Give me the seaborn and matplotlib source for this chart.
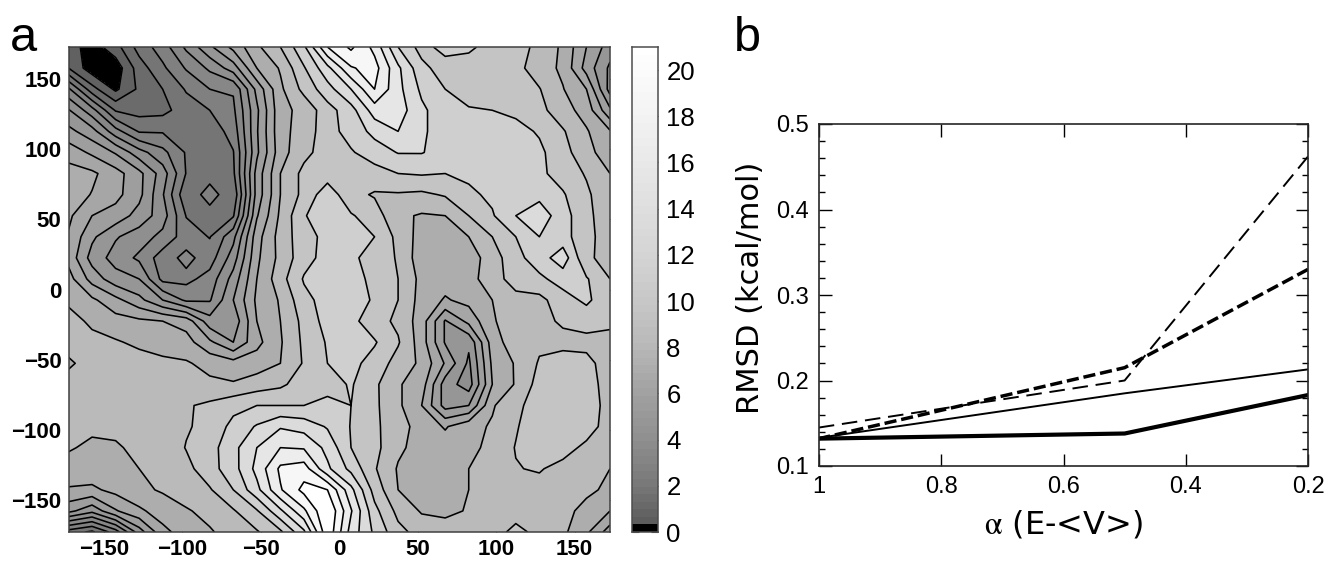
import numpy as np
import matplotlib
matplotlib.use("Agg")
import matplotlib.pyplot as plt
import seaborn as sns

# Panel a: surface on a 15 degree grid, top row first (values are contour band numbers)
phi = np.arange(-172.5, 173, 15)
psi = np.arange(172.5, -173, -15)
surface = [
    [1.5, 0.5, 1.6, 3.4, 4.5, 6.2, 7.8, 9.3, 10.8, 12, 13.8, 17, 18.2, 16.7, 14, 12.6, 13.4, 13.2, 12.6, 12.3, 11.8, 10.8, 9, 7.5],
    [2.0, 0.4, 0.4, 2.5, 3.8, 5.1, 6.2, 7.5, 10, 11.1, 12.9, 14.7, 16.9, 17.4, 15.2, 13.3, 12.5, 12.5, 12.4, 12.3, 11.5, 10.8, 8.6, 6.8],
    [5.2, 2.4, 0.8, 2.2, 3.0, 4.1, 5.0, 5.1, 8.3, 10.8, 12.3, 13.6, 15, 17, 15.3, 13.8, 13, 12.5, 12.3, 12.1, 12.05, 11.05, 10, 6.6],
    [7.1, 5.4, 2.9, 2.6, 2.7, 3.5, 4.0, 4.8, 7.8, 10.7, 11.3, 12.6, 13.6, 15.5, 15.5, 14.2, 13.4, 13.1, 13, 12.8, 12.3, 11.4, 10.6, 8.2],
    [8.3, 7.4, 5.4, 3.9, 3.9, 3.6, 3.4, 4.4, 7.9, 10.7, 11.4, 12.6, 13.4, 14.3, 15, 14.2, 13.4, 13.3, 13.3, 13.3, 12.9, 12.1, 11.1, 10.1],
    [9.6, 8.8, 7.9, 6.4, 5.3, 3.9, 3.3, 3.95, 7.8, 10.6, 11.7, 12.5, 12.9, 13.5, 14.05, 14.05, 13.6, 13.4, 13.3, 13.3, 13.2, 12.4, 11.3, 10.5],
    [10.4, 10.2, 9.4, 8.3, 6.5, 3.95, 3.5, 3.8, 8.4, 11, 12.3, 12.5, 12.4, 12.6, 13, 13.1, 13, 13.2, 13.3, 13.3, 13.2, 12.6, 11.9, 11.0],
    [10.5, 9.95, 9.3, 8.3, 6.1, 3.2, 4.5, 3.2, 8.4, 11, 12.3, 13.6, 12.3, 11.9, 11.9, 11.8, 12.1, 12.8, 13.2, 13.7, 13.7, 13.1, 12.2, 11.2],
    [10.2, 9.0, 8.6, 7.6, 6.5, 3.95, 3.5, 3.9, 8.9, 11.2, 12.9, 13.8, 13.1, 12.5, 11.2, 10.9, 11, 12, 12.9, 14, 14.6, 13.4, 12.3, 11.3],
    [9.9, 8.2, 7.1, 6.5, 5.7, 4.5, 3.95, 5.7, 9.6, 11.4, 12.6, 13.3, 13.5, 13, 11.7, 10.6, 10.5, 11, 12, 13, 14, 13.4, 12.3, 11.5],
    [9.7, 7.6, 6.6, 5.8, 4.5, 5.3, 4.5, 6.5, 9.8, 11.3, 12.6, 13.4, 13.2, 12.6, 11.9, 10.4, 10.2, 10.5, 11.5, 12.7, 13.5, 14.6, 12.1, 11.8],
    [10.4, 8.6, 7.4, 7.0, 4.7, 4.7, 5.4, 7.4, 10, 11.6, 13.1, 13.4, 13.3, 12.8, 12, 10.7, 10.4, 10.6, 11.6, 12.4, 12.8, 13.4, 13.1, 12],
    [10.8, 10.2, 9.3, 8.3, 7.0, 5.8, 5.9, 8.0, 10.2, 11.1, 12.7, 13.4, 13.4, 12.9, 12, 10.6, 9.9, 10.3, 11, 11.7, 11.7, 12.6, 13.2, 12.3],
    [11.4, 10.8, 10.4, 10.2, 10.0, 9.6, 7.4, 7.3, 10, 11, 12.3, 13.4, 13.3, 12.4, 11.8, 10.5, 7.9, 9.3, 10.9, 11.5, 11.8, 12.1, 12.4, 12.2],
    [11.5, 11.3, 11.1, 10.8, 10.4, 10.4, 9.2, 8.0, 9.7, 10.9, 12.2, 13.1, 13.4, 13.1, 12.1, 10.5, 7.9, 7.2, 10.5, 11.6, 11.8, 11.8, 11.7, 11.7],
    [10.8, 11.5, 11.5, 11.4, 11.3, 11.1, 10.7, 10.4, 10.5, 11, 12.1, 13, 13.3, 12.6, 11.6, 10.8, 8.9, 6.8, 10.2, 11.1, 12.1, 12.3, 12.3, 11.5],
    [11.5, 11.6, 11.6, 11.6, 11.5, 11.4, 11.2, 11.1, 11.5, 11.8, 12.5, 12.6, 13.1, 12.2, 11.1, 10.5, 7.5, 6.5, 10, 11.1, 12.4, 12.5, 12.5, 11.5],
    [11.4, 11.4, 11.4, 11.3, 11.3, 11.9, 12.2, 12.7, 13, 13, 13, 13.3, 13, 12.2, 11.2, 10, 7.6, 8, 10.9, 11.7, 12.6, 12.7, 12.7, 11.5],
    [11.3, 11.2, 11.2, 11.2, 11.4, 11.9, 12.3, 13.3, 14.1, 14.9, 14.6, 13.9, 12.95, 12.2, 11.4, 10.6, 9.9, 10.7, 11.1, 11.9, 12.7, 12.8, 12.6, 11.4],
    [11.1, 10.8, 10.9, 11.2, 11.3, 12.05, 12.6, 13.7, 15, 16, 15.9, 14.7, 13, 12.3, 11.2, 10.6, 10.5, 10.7, 11.3, 12.05, 12.6, 12.5, 11.7, 11.4],
    [10.6, 10.6, 10.6, 11.0, 11.4, 11.7, 12.6, 13.6, 15.3, 17.2, 17.5, 15.2, 13.7, 12.1, 10.9, 10.5, 10.6, 11, 11.5, 11.95, 12.1, 11.6, 11.3, 11.0],
    [9.9, 9.8, 10.3, 10.8, 11.1, 11.5, 11.9, 13, 14.7, 16.9, 18.3, 18, 15.3, 12.6, 11, 10.3, 10.3, 11, 11.4, 11.6, 11.6, 11.4, 11.2, 10.8],
    [8.3, 7.3, 8.9, 9.8, 10.5, 10.9, 11.3, 11.9, 12.9, 14.8, 16.8, 19, 16.1, 13.3, 11.7, 10.9, 10.7, 11.1, 11.4, 11.7, 11.6, 11.3, 10.7, 10.0],
    [3.5, 2.8, 4.5, 7.5, 9.7, 10.5, 10.9, 11.4, 11.9, 12.8, 14.8, 18.8, 15.6, 13.8, 12.3, 11.6, 11.6, 11.6, 11.7, 12.2, 11.8, 11.2, 10.2, 8.5],
]
band_greys = [0.0, 0.38, 0.42, 0.46, 0.50, 0.53, 0.56, 0.59, 0.62, 0.65, 0.68, 0.73, 0.77, 0.81, 0.86, 0.90, 0.93, 0.97, 1.0]

phi_ticks = [-150, -100, -50, 0, 50, 100, 150]
psi_ticks = [-150, -100, -50, 0, 50, 100, 150]
cbar_ticks = [0, 2, 4, 6, 8, 10, 12, 14, 16, 18, 20]

# Panel b
alpha_vals = [1, 0.5, 0.2]
rmsd_thin_dash = [0.145, 0.200, 0.462]
rmsd_thick_dash = [0.132, 0.215, 0.330]
rmsd_thin_solid = [0.133, 0.185, 0.213]
rmsd_thick_solid = [0.132, 0.138, 0.183]

sns.set_style("ticks")
plt.rcParams["font.family"] = ["Liberation Sans", "DejaVu Sans"]
plt.rcParams["xtick.direction"] = "in"
plt.rcParams["ytick.direction"] = "in"
plt.rcParams["text.color"] = "black"
plt.rcParams["axes.labelcolor"] = "black"
plt.rcParams["xtick.color"] = "black"
plt.rcParams["ytick.color"] = "black"
plt.rcParams["mathtext.fontset"] = "stix"

W, H = 1337, 564
fig = plt.figure(figsize=(W / 100, H / 100), dpi=100)


def box(x0, y0, x1, y1):
    return [x0 / W, 1 - y1 / H, (x1 - x0) / W, (y1 - y0) / H]


# Contour map
ax = fig.add_axes(box(68.5, 47, 610, 532))
z = np.array(surface)
levels = np.arange(1, 19)
ax.contourf(phi, psi, z, levels=np.r_[-1, levels, 30], colors=[str(g) for g in band_greys])
ax.contour(phi, psi, z, levels=levels, colors="k", linewidths=1.15, linestyles="solid")
ax.set_xlim(-172.5, 172.5)
ax.set_ylim(-172.5, 172.5)
ax.set_xticks(phi_ticks)
ax.set_yticks(psi_ticks)
ax.set_xticklabels([str(t).replace("-", "\u2212") for t in phi_ticks], fontsize=16, fontweight="bold")
ax.set_yticklabels([str(t).replace("-", "\u2212") for t in psi_ticks], fontsize=16, fontweight="bold")
ax.tick_params(top=True, right=True, length=3, width=0.7, color="0.35")
ax.tick_params(axis="x", pad=5)
ax.tick_params(axis="y", pad=5)
for s in ax.spines.values():
    s.set_linewidth(1.1)
    s.set_color("0.25")

# Colour bar
cax = fig.add_axes(box(631.5, 47, 658, 532))
ramp_pos = [0.0, 2, 4, 6, 8, 10, 12, 14, 16, 18, 21]
ramp_grey = [0.33, 0.47, 0.56, 0.63, 0.72, 0.78, 0.83, 0.87, 0.91, 0.95, 1.0]
edges = np.linspace(0, 21, 65)
mids = (edges[:-1] + edges[1:]) / 2
cvals = np.interp(mids, ramp_pos, ramp_grey)
cvals[0] = 0
cax.pcolormesh([0, 1], edges, cvals[:, None], cmap="gray", vmin=0, vmax=1)
cax.set_xticks([])
cax.set_ylim(0, 21)
cax.yaxis.tick_right()
cax.set_yticks(cbar_ticks)
cax.set_yticklabels([str(t) for t in cbar_ticks], fontsize=18.5)
cax.tick_params(axis="y", left=True, right=True, length=5, width=0.8, color="0.3", pad=6)
for s in cax.spines.values():
    s.set_linewidth(1.1)
    s.set_color("0.3")

# RMSD lines
bx = fig.add_axes(box(819, 124, 1308, 466))
sns.lineplot(x=alpha_vals, y=rmsd_thin_dash, ax=bx, color="k", lw=1.4, linestyle=(0, (8, 4)))
sns.lineplot(x=alpha_vals, y=rmsd_thick_dash, ax=bx, color="k", lw=2.5, linestyle=(0, (3.5, 1.4)))
sns.lineplot(x=alpha_vals, y=rmsd_thin_solid, ax=bx, color="k", lw=1.4)
sns.lineplot(x=alpha_vals, y=rmsd_thick_solid, ax=bx, color="k", lw=3.0)
bx.set_xlim(1, 0.2)
bx.set_ylim(0.1, 0.5)
bx.set_xticks([1, 0.8, 0.6, 0.4, 0.2])
bx.set_xticklabels(["1", "0.8", "0.6", "0.4", "0.2"], fontsize=17)
bx.set_yticks([0.1, 0.2, 0.3, 0.4, 0.5])
bx.set_yticklabels(["0.1", "0.2", "0.3", "0.4", "0.5"], fontsize=17)
bx.set_yticks(np.arange(0.1, 0.5, 0.02), minor=True)
bx.tick_params(axis="both", top=True, right=True, length=9, width=1.0, pad=7)
bx.tick_params(axis="y", which="minor", left=True, right=True, length=4, width=1.0)
for s in bx.spines.values():
    s.set_linewidth(1.2)
bx.set_xlabel(r"$\mathrm{\alpha}$ (E-<V>)", fontsize=23, family="DejaVu Sans", labelpad=8)
bx.set_ylabel("RMSD (kcal/mol)", fontsize=22, family="DejaVu Sans", labelpad=8, y=0.52)

fig.text(10 / W, 1 - 51 / H, "a", fontsize=35)
fig.text(734 / W, 1 - 51 / H, "b", fontsize=35)

fig.savefig("out.png", dpi=100)
